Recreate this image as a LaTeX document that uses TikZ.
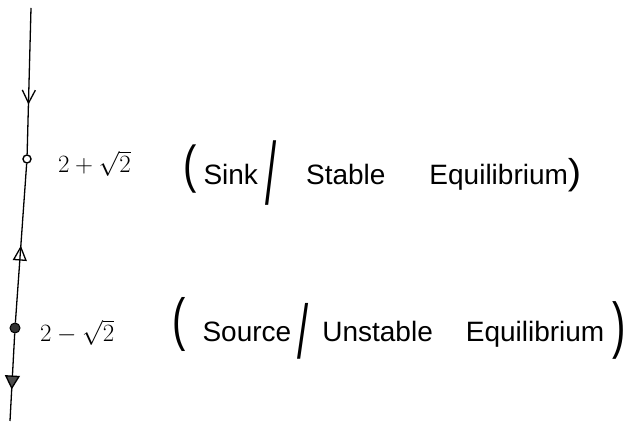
\documentclass[tikz,border=0pt]{standalone}
\usepackage{fontspec}
\setmainfont{Liberation Sans}
\usetikzlibrary{arrows.meta,positioning,decorations.markings}

\begin{document}
\begin{tikzpicture}[x=1pt,y=1pt,>=Latex]
\tikzset{
  phase/.style={line width=1.3pt},
  sinkpt/.style={circle,draw,line width=1.4pt,fill=white,inner sep=0pt,minimum size=8pt},
  sourcept/.style={circle,draw,line width=1pt,fill=black!80,inner sep=0pt,minimum size=10pt},
  value/.style={font=\fontsize{25}{27}\selectfont,anchor=base west,inner sep=0pt},
  kind/.style={font=\fontsize{28}{30}\selectfont,anchor=base west,inner sep=0pt},
  flowat/.style 2 args={postaction=decorate,decoration={markings,mark=at position #1 with {\arrow[line width=1.3pt]{#2}}}}
}
% tall hand-drawn brackets and slashes: raise, vertical stretch, glyph
\newcommand{\tallmark}[3]{\raisebox{#1}{\scalebox{1}[#2]{\fontsize{40}{40}\selectfont #3}}}
\useasboundingbox (0,0) rectangle (626,422);

\coordinate (top) at (31,414);
\node[sinkpt] (sink) at (27,263) {};
\node[sourcept] (source) at (15,94) {};
\coordinate (bottom) at (10,1);

\draw[phase,flowat={0.66}{Straight Barb[length=13pt,width=13pt]}] (top) -- (sink);
\draw[phase,flowat={0.61}{Triangle[open,reversed,length=15pt,width=14pt]}] (sink) -- (source);
\draw[phase,flowat={0.64}{Triangle[open,fill=black!70,length=14pt,width=15pt]}] (source) -- (bottom);

\node[value] (sinkval) at (58,249) {$2+\sqrt{2}$};
\node[kind] (sinkkind) at (183,237) {\tallmark{2pt}{1.3}{(}\hspace{7pt}Sink\hspace{8pt}\tallmark{-20pt}{2.2}{/}\hspace{29pt}Stable\hspace{44pt}Equilibrium\tallmark{0pt}{0.9}{)}};

\node[value] (sourceval) at (40,80) {$2-\sqrt{2}$};
\node[kind] (sourcekind) at (172,80) {\tallmark{2pt}{1.45}{(}\hspace{17pt}Source\hspace{6pt}\tallmark{-17pt}{1.9}{/}\hspace{14pt}Unstable\hspace{33pt}Equilibrium\hspace{8pt}\tallmark{-5pt}{1.55}{)}};
\end{tikzpicture}
\end{document}
